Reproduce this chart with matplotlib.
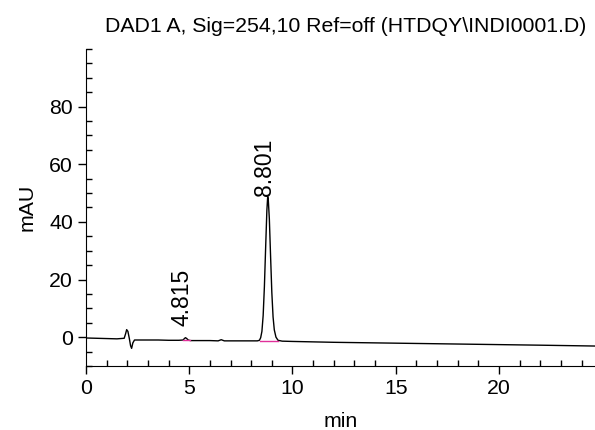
import matplotlib
matplotlib.use("Agg")
import matplotlib.pyplot as plt
from matplotlib.ticker import MultipleLocator

# chromatogram trace (min, mAU)
time = [0.0, 0.5, 1.0, 1.5, 1.85, 1.92, 1.97, 2.03, 2.1, 2.16, 2.21, 2.27, 2.35, 2.5,
        3.0, 3.5, 4.0, 4.5, 4.7, 4.78, 4.82, 4.88, 4.95, 5.05, 5.5, 6.0, 6.4, 6.55,
        6.7, 7.0, 7.5, 8.0, 8.3, 8.4, 8.46, 8.52, 8.58, 8.64, 8.7, 8.76, 8.80,
        8.83, 8.88, 8.94, 9.0, 9.06, 9.12, 9.2, 9.3, 9.5, 10.0, 12.0, 14.0,
        16.0, 18.0, 20.0, 22.0, 24.7]
signal = [-0.3, -0.4, -0.5, -0.6, -0.4, 1.2, 2.6, 2.0, -0.5, -3.0, -3.9, -2.0, -1.0, -1.0,
          -1.0, -1.0, -1.1, -1.1, -1.0, -0.4, -0.2, -0.5, -1.0, -1.2, -1.2, -1.2, -1.3, -0.9,
          -1.3, -1.3, -1.3, -1.3, -1.3, -1.1, -0.2, 2.0, 7.5, 17.5, 31.0, 44.0, 48.8,
          47.5, 41.0, 28.0, 15.5, 7.0, 2.5, 0.0, -1.1, -1.4, -1.5, -1.8, -2.0,
          -2.2, -2.4, -2.6, -2.8, -3.1]

# integration baselines under the labelled peaks
base_start = [4.72, 8.45]
base_end = [5.05, 9.3]
base_level = [-1.05, -1.35]

peak_rt = [4.815, 8.801]
peak_height = [-0.2, 48.8]
peak_labels = ["4.815", "8.801"]

plt.rcParams["font.family"] = ["Liberation Sans", "DejaVu Sans"]
fs = 15.3

fig = plt.figure(figsize=(5.95, 4.3), dpi=100)
ax = fig.add_axes([0.1445, 0.149, 0.8555, 0.737])

ax.plot(time, signal, color="black", linewidth=1.0)
for s, e, lv in zip(base_start, base_end, base_level):
    ax.plot([s, e], [lv, lv], color="#e0309a", linewidth=1.0)

offsets = [4.0, 0.2]
for rt, h, lab, off in zip(peak_rt, peak_height, peak_labels, offsets):
    ax.text(rt - 0.15, h + off, lab, rotation=90, ha="center", va="bottom",
            fontsize=16.5)

ax.set_xlim(0, 24.65)
ax.set_ylim(-10, 100)
ax.xaxis.set_minor_locator(MultipleLocator(1))
ax.yaxis.set_minor_locator(MultipleLocator(5))
ax.set_xticks([0, 5, 10, 15, 20])
ax.set_yticks([0, 20, 40, 60, 80])
ax.tick_params(which="major", direction="out", length=6, width=1, labelsize=fs)
ax.tick_params(which="minor", direction="in", length=4, width=1)

for side in ["top", "right"]:
    ax.spines[side].set_visible(False)

ax.set_xlabel("min", fontsize=fs, labelpad=10)
ax.set_ylabel("mAU", fontsize=fs, labelpad=9)
ax.set_title("DAD1 A, Sig=254,10 Ref=off (HTDQY\\INDI0001.D)", fontsize=fs,
             pad=12, x=0.51)

fig.savefig("out.png", dpi=100)
